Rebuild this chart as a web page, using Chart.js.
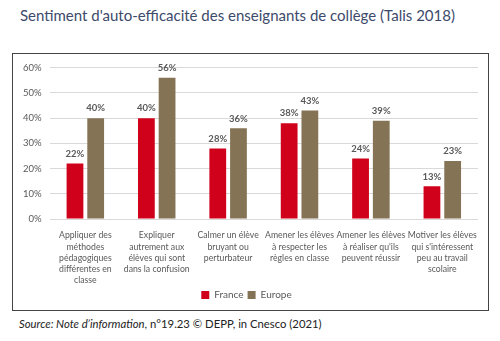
<!DOCTYPE html>
<html>
<head>
<meta charset="utf-8">
<script src="https://cdn.jsdelivr.net/npm/chart.js@4.4.1/dist/chart.umd.min.js"></script>
<style>
  body { margin: 0; width: 500px; height: 341px; background: #fff; font-family: Lato, "Open Sans", sans-serif; position: relative; overflow: hidden; }
  #title { position: absolute; left: 20px; top: 6px; font-size: 15px; color: #3d4a6b; white-space: nowrap; }
  #box { position: absolute; left: 12px; top: 53px; width: 475px; height: 256px; border: 1px solid #444; }
  #source { position: absolute; left: 19px; top: 317px; font-size: 11.3px; color: #222; white-space: nowrap; }
</style>
</head>
<body>
<div id="title">Sentiment d'auto-efficacité des enseignants de collège (Talis 2018)</div>
<div id="box"><canvas id="chart" width="475" height="256"></canvas></div>
<div id="source"><i>Source: Note d’information</i>, n°19.23 © DEPP, in Cnesco (2021)</div>
<script>
var categories = [
    ["Appliquer des", "méthodes", "pédagogiques", "différentes en", "classe"],
    ["Expliquer", "autrement aux", "élèves qui sont", "dans la confusion"],
    ["Calmer un élève", "bruyant ou", "perturbateur"],
    ["Amener les élèves", "à respecter les", "règles en classe"],
    ["Amener les élèves", "à réaliser qu'ils", "peuvent réussir"],
    ["Motiver les élèves", "qui s'intéressent", "peu au travail", "scolaire"]
];
var france = [22, 40, 28, 38, 24, 13];
var europe = [40, 56, 36, 43, 39, 23];

var fontFamily = 'Lato, "Open Sans", sans-serif';

// Percent labels drawn above each bar
var valueLabels = {
    id: 'valueLabels',
    afterDatasetsDraw: function(chart) {
        var ctx = chart.ctx;
        ctx.save();
        ctx.font = 'bold 9.5px ' + fontFamily;
        ctx.fillStyle = '#595959';
        ctx.textAlign = 'center';
        ctx.textBaseline = 'bottom';
        chart.data.datasets.forEach(function(ds, i) {
            chart.getDatasetMeta(i).data.forEach(function(bar, j) {
                ctx.fillText(ds.data[j] + '%', bar.x, bar.y - 5);
            });
        });
        ctx.restore();
    }
};

new Chart(document.getElementById("chart").getContext("2d"), {
    type: "bar",
    data: {
        labels: categories,
        datasets: [{
            label: "France",
            data: france,
            backgroundColor: "#d0021b",
            categoryPercentage: 0.58,
            barPercentage: 0.81
        }, {
            label: "Europe",
            data: europe,
            backgroundColor: "#857355",
            categoryPercentage: 0.58,
            barPercentage: 0.81
        }]
    },
    plugins: [valueLabels],
    options: {
        responsive: false,
        animation: false,
        layout: { padding: { left: 2, right: 10, top: 6, bottom: 0 } },
        plugins: {
            legend: {
                position: 'bottom',
                labels: {
                    boxWidth: 8,
                    boxHeight: 8,
                    padding: 4,
                    color: '#595959',
                    font: { size: 10, family: fontFamily }
                }
            },
            tooltip: { enabled: false }
        },
        scales: {
            y: {
                min: 0,
                max: 60,
                border: { display: false },
                grid: { color: '#d9d9d9', drawTicks: false },
                ticks: {
                    stepSize: 10,
                    padding: 8,
                    color: '#595959',
                    font: { size: 9.5, family: fontFamily },
                    callback: function(v) { return v + '%'; }
                }
            },
            x: {
                border: { display: false },
                grid: { display: false },
                // keep the category label band a fixed height
                afterFit: function(scale) { scale.height = 67; },
                ticks: {
                    color: '#595959',
                    maxRotation: 0,
                    autoSkip: false,
                    padding: 3,
                    font: { size: 8.7, family: fontFamily, lineHeight: 1.28 }
                }
            }
        }
    }
});
</script>
</body>
</html>
